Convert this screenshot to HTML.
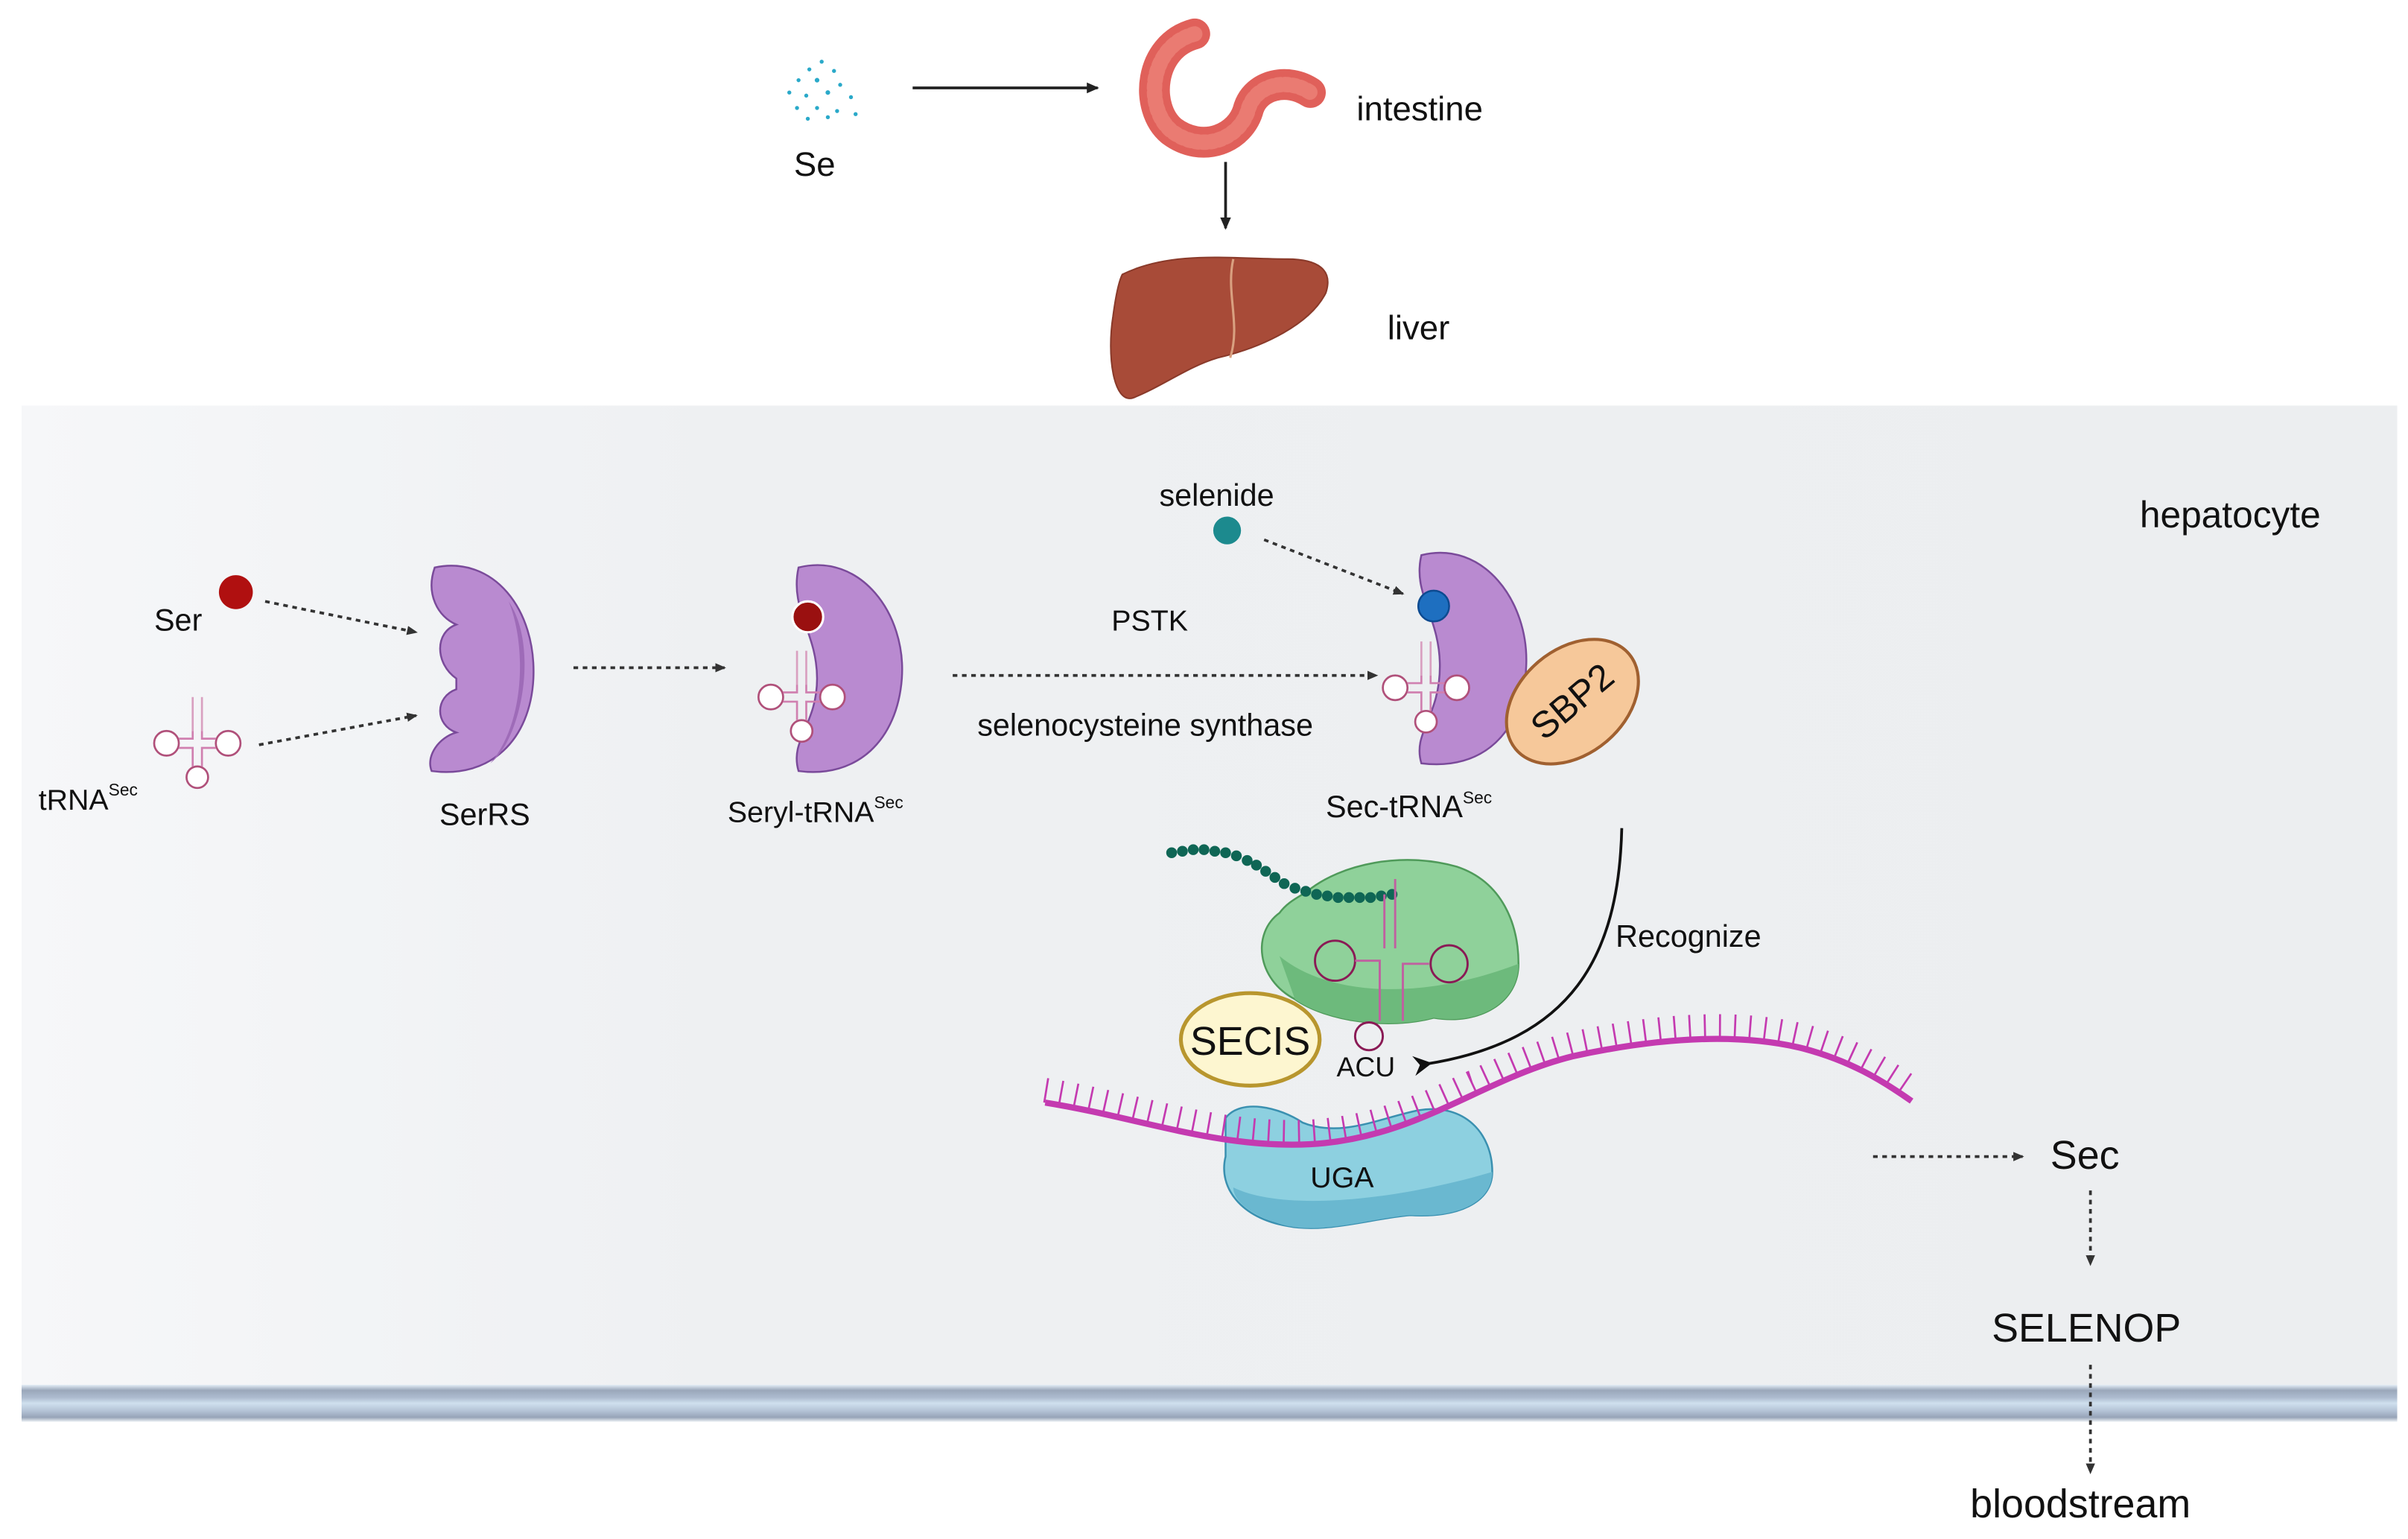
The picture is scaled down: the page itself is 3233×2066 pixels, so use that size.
<!DOCTYPE html>
<html><head><meta charset="utf-8"><style>
html,body{margin:0;padding:0;background:#fff}
svg{display:block}
text{font-family:"Liberation Sans",sans-serif;fill:#111}
</style></head><body>
<svg width="3233" height="2066" viewBox="0 0 1562 998" preserveAspectRatio="none" xmlns="http://www.w3.org/2000/svg">
<defs>
<linearGradient id="bg" x1="0" x2="1" y1="0" y2="0"><stop offset="0" stop-color="#f6f7f9"/><stop offset="0.3" stop-color="#eef0f2"/><stop offset="1" stop-color="#eceef0"/></linearGradient>
<linearGradient id="mem" x1="0" x2="0" y1="0" y2="1"><stop offset="0" stop-color="#e4eef6"/><stop offset="0.15" stop-color="#9aa7ba"/><stop offset="0.35" stop-color="#aebcd0"/><stop offset="0.5" stop-color="#cfe0ee"/><stop offset="0.7" stop-color="#b4c3d6"/><stop offset="0.88" stop-color="#97a4b8"/><stop offset="1" stop-color="#eef2f6"/></linearGradient>
<marker id="ah" markerWidth="8" markerHeight="8" refX="7" refY="4" orient="auto" markerUnits="userSpaceOnUse"><path d="M0,0.5 L8,4 L0,7.5z" fill="#222"/></marker>
<marker id="ahs" markerWidth="7" markerHeight="7" refX="6" refY="3.5" orient="auto" markerUnits="userSpaceOnUse"><path d="M0,0.5 L7,3.5 L0,6.5z" fill="#333"/></marker>
<marker id="ahb" markerWidth="14" markerHeight="14" refX="4" refY="7" orient="auto" markerUnits="userSpaceOnUse"><path d="M0,7 L12,0.5 L8,7 L12,13.5z" fill="#111"/></marker>
<g id="trna" fill="none" stroke="#b0507a" stroke-width="1.3">
<path d="M-3,-30 L-3,-8 M3,-30 L3,-8" stroke="#d9a0c0"/>
<circle cx="-20" cy="0" r="8" fill="#fff"/><circle cx="20" cy="0" r="8" fill="#fff"/><circle cx="0" cy="22" r="7" fill="#fff"/>
<path d="M-12,-3 L-3,-3 L-3,-8 M-12,3 L-3,3 L-3,15 M12,-3 L3,-3 L3,-8 M12,3 L3,3 L3,15" stroke="#d080b0"/>
</g>
</defs>

<rect x="14" y="263" width="1541" height="640" fill="url(#bg)"/>
<rect x="14" y="898" width="1541" height="24" fill="url(#mem)"/>

<g fill="#2aa9c9">
<circle cx="525" cy="45" r="1.3"/><circle cx="533" cy="40" r="1.3"/><circle cx="541" cy="46" r="1.3"/><circle cx="518" cy="52" r="1.3"/><circle cx="530" cy="52" r="1.5"/><circle cx="545" cy="55" r="1.3"/><circle cx="512" cy="60" r="1.3"/><circle cx="523" cy="62" r="1.3"/><circle cx="537" cy="60" r="1.5"/><circle cx="552" cy="63" r="1.3"/><circle cx="517" cy="70" r="1.3"/><circle cx="530" cy="70" r="1.3"/><circle cx="543" cy="72" r="1.3"/><circle cx="555" cy="74" r="1.3"/><circle cx="524" cy="77" r="1.3"/><circle cx="537" cy="76" r="1.3"/></g>
<text x="515" y="114" font-size="22">Se</text>
<line x1="592" y1="57" x2="712" y2="57" stroke="#222" stroke-width="1.8" marker-end="url(#ah)"/>

<path d="M775,22 C745,30 742,70 760,85 C780,100 805,90 810,70 C815,55 835,50 850,60" fill="none" stroke="#e0605a" stroke-width="20" stroke-linecap="round"/>
<path d="M775,22 C745,30 742,70 760,85 C780,100 805,90 810,70 C815,55 835,50 850,60" fill="none" stroke="#ea7b72" stroke-width="10" stroke-linecap="round" stroke-dasharray="2 3"/>
<text x="880" y="78" font-size="22">intestine</text>
<line x1="795" y1="105" x2="795" y2="148" stroke="#222" stroke-width="1.8" marker-end="url(#ah)"/>

<path d="M728,178 C760,162 800,168 835,168 C855,168 865,175 860,190 C850,210 820,225 790,232 C770,238 755,250 735,258 C722,262 718,230 722,205 C724,190 726,182 728,178z" fill="#a84b38" stroke="#8a3a2a"/>
<path d="M800,168 C795,190 805,210 798,232" fill="none" stroke="#d9a080" stroke-width="1.5"/>
<text x="900" y="220" font-size="22">liver</text>

<text x="1388" y="342" font-size="24">hepatocyte</text>

<text x="100" y="409" font-size="20">Ser</text>
<circle cx="153" cy="384" r="11" fill="#b01010"/>
<line x1="172" y1="390" x2="270" y2="410" stroke="#333" stroke-width="1.8" stroke-dasharray="3 3" marker-end="url(#ahs)"/>
<use href="#trna" x="128" y="482"/>
<text x="25" y="525" font-size="19">tRNA<tspan font-size="11" dy="-9">Sec</tspan></text>
<line x1="168" y1="483" x2="270" y2="464" stroke="#333" stroke-width="1.8" stroke-dasharray="3 3" marker-end="url(#ahs)"/>

<path d="M282,368 C320,360 348,395 346,440 C344,480 318,505 280,500 C276,490 285,478 296,475 C282,470 282,452 296,447 L296,440 C282,430 282,410 296,405 C284,400 276,385 282,368z" fill="#b98ad0" stroke="#7a4a9a" stroke-width="1.2"/>
<path d="M330,390 C342,420 340,470 318,495 C338,480 350,420 330,390z" fill="#9e6bb8"/>
<text x="285" y="535" font-size="20">SerRS</text>
<line x1="372" y1="433" x2="470" y2="433" stroke="#333" stroke-width="1.8" stroke-dasharray="3 3" marker-end="url(#ahs)"/>

<path d="M518,368 C558,358 588,398 585,440 C582,480 556,505 518,500 C512,480 530,470 530,440 C530,410 512,395 518,368z" fill="#b98ad0" stroke="#7a4a9a" stroke-width="1.2"/>
<circle cx="524" cy="400" r="10" fill="#9a1010" stroke="#fff" stroke-width="1.5"/>
<use href="#trna" x="520" y="452"/>
<text x="472" y="533" font-size="19">Seryl-tRNA<tspan font-size="11" dy="-9">Sec</tspan></text>

<text x="721" y="409" font-size="19">PSTK</text>
<line x1="618" y1="438" x2="893" y2="438" stroke="#333" stroke-width="1.8" stroke-dasharray="3 3" marker-end="url(#ahs)"/>
<text x="634" y="477" font-size="20">selenocysteine synthase</text>

<text x="752" y="328" font-size="20">selenide</text>
<circle cx="796" cy="344" r="9" fill="#1c8a8e"/>
<line x1="820" y1="350" x2="910" y2="385" stroke="#333" stroke-width="1.8" stroke-dasharray="3 3" marker-end="url(#ahs)"/>

<path d="M922,360 C962,350 992,390 990,432 C988,475 962,500 922,495 C916,475 934,465 934,432 C934,400 916,385 922,360z" fill="#b98ad0" stroke="#7a4a9a" stroke-width="1.2"/>
<circle cx="930" cy="393" r="10" fill="#1e6fc0" stroke="#0d4a90" stroke-width="1.2"/>
<use href="#trna" x="925" y="446"/>
<ellipse cx="1020" cy="455" rx="48" ry="34" transform="rotate(-40 1020 455)" fill="#f6c89a" stroke="#a06030" stroke-width="2"/>
<text x="1020" y="463" font-size="24" text-anchor="middle" transform="rotate(-40 1020 455)">SBP2</text>
<text x="860" y="530" font-size="20">Sec-tRNA<tspan font-size="11" dy="-9">Sec</tspan></text>

<path d="M1052,537 C1050,620 1020,675 925,690" fill="none" stroke="#111" stroke-width="1.8" marker-end="url(#ahb)"/>
<text x="1048" y="614" font-size="20">Recognize</text>

<path d="M848,578 C870,560 910,552 945,562 C975,572 985,600 985,625 C985,650 960,665 930,660 C900,668 860,662 840,648 C815,635 812,605 830,592 C835,585 842,582 848,578z" fill="#8fd19a" stroke="#4f9a5a" stroke-width="1.2"/>
<path d="M830,620 C860,645 920,650 985,625 C985,650 960,665 930,660 C900,668 860,662 840,648z" fill="#6dba7c"/>
<g fill="#0f6655">
<circle cx="760" cy="553" r="3.5"/><circle cx="767" cy="552" r="3.5"/><circle cx="774" cy="551" r="3.5"/><circle cx="781" cy="551" r="3.5"/><circle cx="788" cy="552" r="3.5"/><circle cx="795" cy="553" r="3.5"/><circle cx="802" cy="555" r="3.5"/><circle cx="809" cy="558" r="3.5"/><circle cx="815" cy="561" r="3.5"/><circle cx="821" cy="565" r="3.5"/><circle cx="827" cy="569" r="3.5"/><circle cx="833" cy="573" r="3.5"/><circle cx="840" cy="576" r="3.5"/><circle cx="847" cy="578" r="3.5"/><circle cx="854" cy="580" r="3.5"/><circle cx="861" cy="581" r="3.5"/><circle cx="868" cy="582" r="3.5"/><circle cx="875" cy="582" r="3.5"/><circle cx="882" cy="582" r="3.5"/><circle cx="889" cy="582" r="3.5"/><circle cx="896" cy="581" r="3.5"/><circle cx="903" cy="580" r="3.5"/></g>
<g fill="none" stroke="#8a1a55" stroke-width="1.4">
<circle cx="866" cy="623" r="13"/><circle cx="940" cy="625" r="12"/><circle cx="888" cy="672" r="9"/>
<path d="M879,623 L895,623 L895,662 M927,625 L910,625 L910,662 M905,570 L905,615 M898,580 L898,615" stroke="#c060a0"/>
</g>
<ellipse cx="811" cy="674" rx="45" ry="30" fill="#fdf6d0" stroke="#b8962e" stroke-width="2.5"/>
<text x="811" y="684" font-size="26" text-anchor="middle">SECIS</text>
<text x="867" y="698" font-size="18">ACU</text>

<path d="M795,725 C805,712 830,718 845,728 C870,738 895,725 920,720 C950,715 968,735 968,760 C968,780 945,790 915,788 C890,790 860,800 835,795 C805,790 790,770 795,750z" fill="#8dd0e0" stroke="#3a90b0" stroke-width="1.2"/>
<path d="M800,770 C830,785 900,780 968,760 C968,780 945,790 915,788 C890,790 860,800 835,795 C815,790 800,780 800,770z" fill="#6ab8d0"/>
<text x="850" y="770" font-size="19">UGA</text>

<path d="M678,715 C740,725 790,745 850,742 C920,738 960,700 1020,685 C1080,672 1130,670 1170,680 C1200,688 1220,700 1240,714" fill="none" stroke="#c43ab0" stroke-width="4"/>
<path d="M678,715 C740,725 790,745 850,742 C920,738 960,700 1020,685 C1080,672 1130,670 1170,680 C1200,688 1220,700 1240,714" fill="none" stroke="#c43ab0" stroke-width="16" stroke-dasharray="1.3 8.5" transform="translate(0,-8)"/>

<line x1="1215" y1="750" x2="1312" y2="750" stroke="#333" stroke-width="1.8" stroke-dasharray="3 3" marker-end="url(#ahs)"/>
<text x="1330" y="758" font-size="26">Sec</text>
<line x1="1356" y1="772" x2="1356" y2="820" stroke="#333" stroke-width="1.8" stroke-dasharray="3 3" marker-end="url(#ahs)"/>
<text x="1292" y="870" font-size="26">SELENOP</text>
<line x1="1356" y1="885" x2="1356" y2="955" stroke="#333" stroke-width="1.8" stroke-dasharray="3 3" marker-end="url(#ahs)"/>
<text x="1278" y="984" font-size="26">bloodstream</text>
</svg>
</body></html>
